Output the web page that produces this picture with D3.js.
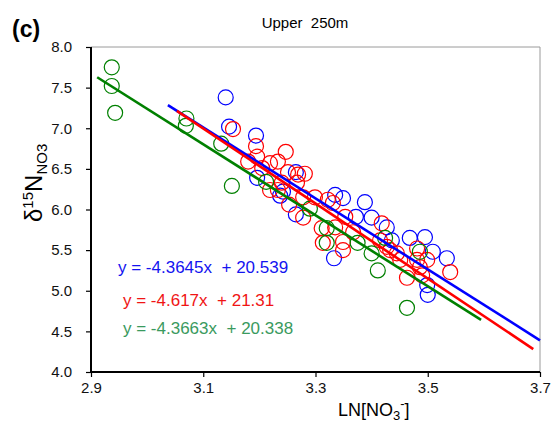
<!DOCTYPE html>
<html>
<head>
<meta charset="utf-8">
<script src="https://cdn.jsdelivr.net/npm/d3@7/dist/d3.min.js"></script>
<style>
  body { margin: 0; background: #fff; }
  svg { display: block; font-family: "Liberation Sans", Arial, sans-serif; }
</style>
</head>
<body>
<svg id="chart" width="557" height="427"></svg>
<script>
// tick values
const xTicks = [2.9, 3.1, 3.3, 3.5, 3.7];
const yTicks = [4.0, 4.5, 5.0, 5.5, 6.0, 6.5, 7.0, 7.5, 8.0];

// blue series
const blueX = [3.140, 3.146, 3.194, 3.196, 3.237, 3.242, 3.265, 3.265, 3.335, 3.349, 3.388,
               3.372, 3.400, 3.427, 3.436, 3.468, 3.495, 3.509, 3.534, 3.333, 3.499, 3.500];
const blueY = [7.38, 7.02, 6.91, 6.39, 6.17, 6.22, 5.94, 6.46, 6.18, 6.14, 6.09,
               5.91, 5.90, 5.78, 5.62, 5.65, 5.66, 5.48, 5.40, 5.40, 5.07, 4.95];

// red series
const redX = [3.153, 3.194, 3.196, 3.247, 3.233, 3.219, 3.251, 3.269, 3.281, 3.205, 3.180,
              3.240, 3.219, 3.233, 3.267, 3.253, 3.278, 3.299, 3.278, 3.322, 3.331, 3.311,
              3.335, 3.349, 3.349, 3.367, 3.418, 3.415, 3.427, 3.445, 3.451, 3.463, 3.486,
              3.499, 3.481, 3.540, 3.481, 3.490, 3.353, 3.313, 3.433];
const redY = [6.99, 6.78, 6.65, 6.71, 6.59, 6.57, 6.46, 6.43, 6.44, 6.51, 6.59,
              6.33, 6.24, 6.24, 6.33, 6.06, 5.90, 6.15, 6.15, 6.12, 6.08, 5.77,
              5.78, 5.60, 5.50, 5.72, 5.83, 5.62, 5.54, 5.46, 5.38, 5.16, 5.29,
              5.38, 5.52, 5.23, 5.38, 5.19, 5.91, 5.59, 5.50];

// green series
const greenX = [2.937, 2.937, 2.943, 3.070, 3.069, 3.132, 3.151, 3.212, 3.290, 3.320,
                3.320, 3.375, 3.400, 3.424, 3.411, 3.486, 3.463];
const greenY = [7.75, 7.52, 7.19, 7.12, 7.03, 6.81, 6.29, 6.34, 6.01, 5.77,
                5.59, 5.59, 5.46, 5.65, 5.25, 5.48, 4.79];

// regression fits: blue, red, green
const fitNames = ['blue', 'red', 'green'];
const fitSlope = [-4.3645, -4.617, -4.3663];
const fitIntercept = [20.539, 21.31, 20.338];
const fitStart = [3.037, 3.053, 2.911];
const fitEnd = [3.70, 3.688, 3.595];
const fitLabels = ['y = -4.3645x  + 20.539', 'y = -4.617x  + 21.31', 'y = -4.3663x  + 20.338'];

const colors = { blue: '#0000ff', red: '#ff0000', green: '#008000' };
const labelColors = { blue: '#1414f0', red: '#f01414', green: '#3a9a5e' };

const svg = d3.select('#chart');

const x = d3.scaleLinear().domain([2.9, 3.7]).range([91, 540]);
const y = d3.scaleLinear().domain([4, 8]).range([372, 47]);

// frame (top and right in grey)
svg.append('line').attr('x1', x(2.9)).attr('x2', x(3.7)).attr('y1', y(8)).attr('y2', y(8))
  .attr('stroke', '#9a9a9a').attr('stroke-width', 1);
svg.append('line').attr('x1', x(3.7)).attr('x2', x(3.7)).attr('y1', y(8)).attr('y2', y(4))
  .attr('stroke', '#9a9a9a').attr('stroke-width', 1);

// points
function drawPoints(xs, ys, col) {
  svg.append('g').selectAll('circle').data(xs).enter().append('circle')
    .attr('cx', d => x(d))
    .attr('cy', (d, i) => y(ys[i]))
    .attr('r', 7.5)
    .attr('fill', 'none')
    .attr('stroke', col)
    .attr('stroke-width', 1.2);
}
drawPoints(blueX, blueY, colors.blue);
drawPoints(redX, redY, colors.red);
drawPoints(greenX, greenY, colors.green);

// regression lines
fitNames.forEach((n, i) => {
  const f = v => fitSlope[i] * v + fitIntercept[i];
  svg.append('line')
    .attr('x1', x(fitStart[i])).attr('y1', y(f(fitStart[i])))
    .attr('x2', x(fitEnd[i])).attr('y2', y(f(fitEnd[i])))
    .attr('stroke', colors[n]).attr('stroke-width', 2.6);
});

// axes
const xAxis = svg.append('g').attr('transform', `translate(0,${y(4)})`)
  .call(d3.axisBottom(x).tickValues(xTicks).tickFormat(d3.format('.1f')).tickSize(5).tickPadding(5));
const yAxis = svg.append('g').attr('transform', `translate(${x(2.9)},0)`)
  .call(d3.axisLeft(y).tickValues(yTicks).tickFormat(d3.format('.1f')).tickSize(5).tickPadding(14));
[xAxis, yAxis].forEach(a => {
  a.select('.domain').attr('stroke', '#000').attr('stroke-width', 2);
  a.selectAll('.tick line').attr('stroke', '#000').attr('stroke-width', 1.2);
  a.selectAll('.tick text').attr('fill', '#111').style('font-size', '15px')
    .style('font-family', '"Liberation Sans", Arial, sans-serif');
});
xAxis.select('.domain').attr('d', `M${x(2.9)},0H${x(3.7)}`);
yAxis.select('.domain').attr('d', `M0,${y(8)}V${y(4)}`);
xAxis.selectAll('.tick text').attr('dy', '0.71em');

// equations
const eqPos = [[118, 273], [123, 306], [123, 334]];
fitNames.forEach((n, i) => {
  svg.append('text')
    .attr('x', eqPos[i][0]).attr('y', eqPos[i][1])
    .attr('fill', labelColors[n])
    .style('font-size', '17px')
    .style('white-space', 'pre')
    .text(fitLabels[i]);
});

// title and panel tag
svg.append('text').attr('x', 305).attr('y', 28).attr('text-anchor', 'middle')
  .style('font-size', '15px').style('white-space', 'pre').text('Upper  250m');
svg.append('text').attr('x', 12).attr('y', 37)
  .style('font-size', '23px').style('font-weight', 'bold').text('(c)');

// x label
const xl = svg.append('text').attr('x', 338).attr('y', 416).style('font-size', '18px');
xl.append('tspan').text('LN[NO');
xl.append('tspan').attr('dy', 4).style('font-size', '13px').text('3');
xl.append('tspan').attr('dy', -12).style('font-size', '13px').text('-');
xl.append('tspan').attr('dy', 8).text(']');

// y label
const yl = svg.append('text')
  .attr('transform', 'translate(42,222) rotate(-90)')
  .style('font-size', '24px');
yl.append('tspan').text('δ');
yl.append('tspan').attr('dy', -9).style('font-size', '15px').text('15');
yl.append('tspan').attr('dy', 9).text('N');
yl.append('tspan').attr('dy', 5).style('font-size', '15px').text('NO3');
</script>
</body>
</html>
